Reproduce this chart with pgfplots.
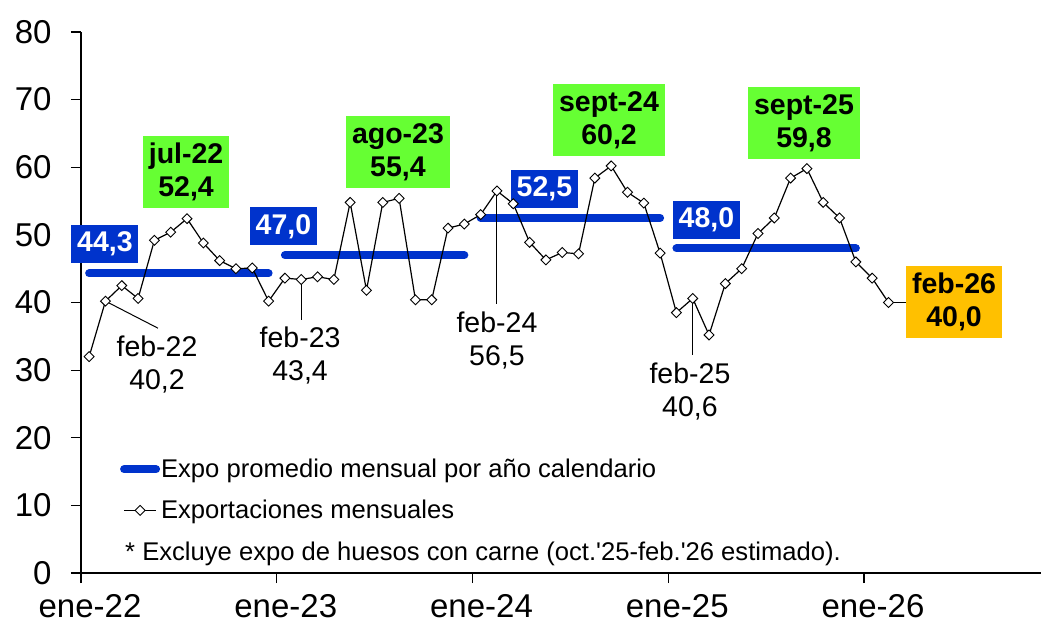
\documentclass[border=0pt]{standalone}
\usepackage{pgfplots}
\usepackage{pgfplotstable}
\pgfplotsset{compat=1.18}
\usepackage{fontspec}
\setmainfont{Liberation Sans}
\definecolor{avgblue}{RGB}{0,51,204}
\definecolor{peakgreen}{RGB}{102,255,51}
\definecolor{lastorange}{RGB}{255,192,0}

\pgfplotsset{
    avgleg/.style={legend image code/.code={\draw[##1] (0pt,0pt) -- (32pt,0pt);}},
    expleg/.style={legend image code/.code={\draw[mark repeat=2,mark phase=2,##1]
        plot coordinates {(0pt,0pt) (16pt,0pt) (32pt,0pt)};}},
}

\pgfplotstableread{
x y
0.5 32.0
1.5 40.2
2.5 42.5
3.5 40.6
4.5 49.2
5.5 50.4
6.5 52.4
7.5 48.8
8.5 46.2
9.5 45.0
10.5 45.1
11.5 40.2
12.5 43.6
13.5 43.4
14.5 43.8
15.5 43.4
16.5 54.8
17.5 41.8
18.5 54.8
19.5 55.4
20.5 40.4
21.5 40.4
22.5 51.0
23.5 51.6
24.5 53.0
25.5 56.5
26.5 54.6
27.5 48.9
28.5 46.3
29.5 47.4
30.5 47.2
31.5 58.4
32.5 60.2
33.5 56.3
34.5 54.7
35.5 47.3
36.5 38.5
37.5 40.6
38.5 35.2
39.5 42.8
40.5 45.0
41.5 50.2
42.5 52.5
43.5 58.4
44.5 59.8
45.5 54.8
46.5 52.5
47.5 46.0
48.5 43.6
49.5 40.0
}\monthly

\begin{document}
\begin{tikzpicture}[
    lbl/.style={font=\fontsize{28.5}{33}\selectfont, align=center},
    bluebox/.style={font=\bfseries\fontsize{28.5}{33}\selectfont, fill=avgblue, text=white,
        minimum width=67pt, minimum height=38pt, inner sep=0pt},
    peakbox/.style={font=\bfseries\fontsize{28.5}{33}\selectfont, align=center,
        minimum height=72pt, inner sep=0pt},
]
\begin{axis}[
    at={(81pt,54pt)}, anchor=south west,
    scale only axis, width=960pt, height=541pt,
    xmin=0, xmax=58.85, ymin=0, ymax=80,
    axis lines*=left,
    axis line style={black, line width=1.2pt},
    tick style={black, line width=1.2pt},
    tick align=outside, major tick length=10pt,
    xtick={0,12,24,36,48},
    xticklabels={ene-22,ene-23,ene-24,ene-25,ene-26},
    ytick={0,10,...,80},
    ticklabel style={font=\fontsize{33}{40}\selectfont},
    xticklabel style={xshift=9pt, yshift=-8pt},
    yticklabel style={xshift=-16pt},
    /pgf/number format/assume math mode=true,
    clip=false,
    legend style={at={(axis cs:2.2,12.3)}, anchor=west, draw=none, fill=none,
        font=\fontsize{25.6}{30}\selectfont, row sep=17pt,
        nodes={inner xsep=1pt}},
    legend cell align=left,
]
    % promedios anuales
    \addplot[avgblue, line width=8pt, line cap=round, avgleg]
        coordinates {(0.5,44.3) (11.5,44.3)};
    \addlegendentry{Expo promedio mensual por año calendario}
    \addplot[avgblue, line width=8pt, line cap=round, forget plot]
        coordinates {(12.5,47.0) (23.5,47.0)};
    \addplot[avgblue, line width=8pt, line cap=round, forget plot]
        coordinates {(24.5,52.5) (35.5,52.5)};
    \addplot[avgblue, line width=8pt, line cap=round, forget plot]
        coordinates {(36.5,48.0) (47.5,48.0)};

    % exportaciones mensuales
    \addplot[black, line width=1.2pt, mark=square*, mark size=3.5pt,
        mark options={rotate=45, fill=white, line width=0.9pt}, expleg]
        table[x=x, y=y] {\monthly};
    \addlegendentry{Exportaciones mensuales}

    % lineas guia
    \addplot[black, line width=1pt, forget plot] coordinates {(1.5,40.2) (4.72,36.2)};
    \addplot[black, line width=1pt, forget plot] coordinates {(13.5,43.4) (13.5,37.4)};
    \addplot[black, line width=1pt, forget plot] coordinates {(25.5,56.5) (25.5,39.8)};
    \addplot[black, line width=1pt, forget plot] coordinates {(37.5,40.6) (37.5,32.2)};
    \addplot[black, line width=1pt, forget plot] coordinates {(49.5,40.0) (51.5,40.0)};

    % etiquetas
    \node[bluebox] at (axis cs:1.47,48.65) {44,3};
    \node[bluebox] at (axis cs:12.41,51.24) {47,0};
    \node[bluebox] at (axis cs:28.41,56.78) {52,5};
    \node[bluebox] at (axis cs:38.34,52.27) {48,0};

    \node[peakbox, fill=peakgreen, minimum width=86pt] at (axis cs:6.44,59.30) {jul-22\\52,4};
    \node[peakbox, fill=peakgreen, minimum width=104pt] at (axis cs:19.43,62.25) {ago-23\\55,4};
    \node[peakbox, fill=peakgreen, minimum width=112pt] at (axis cs:32.37,66.99) {sept-24\\60,2};
    \node[peakbox, fill=peakgreen, minimum width=112pt] at (axis cs:44.32,66.54) {sept-25\\59,8};
    \node[peakbox, fill=lastorange, minimum width=96pt] at (axis cs:53.52,40.07) {feb-26\\40,0};

    \node[lbl] at (axis cs:4.66,30.9) {feb-22\\40,2};
    \node[lbl] at (axis cs:13.43,32.09) {feb-23\\43,4};
    \node[lbl] at (axis cs:25.50,34.31) {feb-24\\56,5};
    \node[lbl] at (axis cs:37.33,26.77) {feb-25\\40,6};

    \node[anchor=west, inner sep=0pt, font=\fontsize{25.6}{30}\selectfont]
        at (axis cs:2.70,2.8) {* Excluye expo de huesos con carne (oct.\textquotesingle 25-feb.\textquotesingle 26 estimado).};
\end{axis}
\pgfresetboundingbox
\path (0pt,0pt) rectangle (1041pt,627pt);
\end{tikzpicture}
\end{document}
